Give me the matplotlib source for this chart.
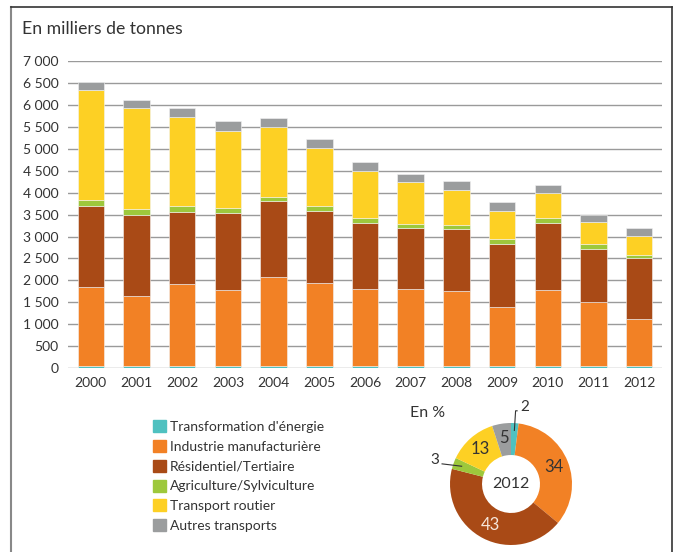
import numpy as np
import matplotlib.pyplot as plt
from matplotlib.lines import Line2D

plt.rcParams['font.family'] = ['Lato', 'DejaVu Sans']

# Data (milliers de tonnes)
years = ['2000', '2001', '2002', '2003', '2004', '2005', '2006',
         '2007', '2008', '2009', '2010', '2011', '2012']
transformation = [50, 50, 50, 50, 50, 50, 50, 50, 50, 50, 50, 50, 50]
industrie = [1790, 1600, 1860, 1730, 2025, 1890, 1760, 1760, 1700, 1350, 1730, 1450, 1080]
residentiel = [1860, 1850, 1650, 1750, 1725, 1650, 1500, 1390, 1430, 1420, 1530, 1225, 1375]
agriculture = [130, 130, 140, 130, 110, 110, 120, 90, 90, 115, 120, 95, 85]
transport = [2500, 2290, 2010, 1750, 1580, 1305, 1055, 950, 780, 655, 560, 500, 430]
autres = [190, 190, 210, 210, 210, 210, 215, 190, 215, 190, 190, 170, 165]

series = [transformation, industrie, residentiel, agriculture, transport, autres]
labels = ["Transformation d'énergie", "Industrie manufacturière",
          "Résidentiel/Tertiaire", "Agriculture/Sylviculture",
          "Transport routier", "Autres transports"]
colors = ['#4fc1c0', '#f28125', '#a94a16', '#9dc83c', '#fdd024', '#9b9d9e']

pie_pct = [2, 34, 43, 3, 13, 5]

yticks = np.arange(0, 7001, 500)
ytick_labels = ['{:,}'.format(v).replace(',', ' ') for v in yticks]

txt = '#333333'

fig = plt.figure(figsize=(6.75, 5.52), dpi=100)

# Bar chart
ax = fig.add_axes([68 / 675, 1 - 368.3 / 552, 594 / 675, 307.5 / 552])
x = np.arange(len(years))
bottom = np.zeros(len(years))
for vals, c in zip(series, colors):
    ax.bar(x, vals, width=0.58, bottom=bottom, color=c,
           edgecolor='#f4f4f4', linewidth=0.4, zorder=3)
    bottom += np.array(vals)

ax.set_xlim(-0.5, 12.5)
ax.set_ylim(0, 7000)
ax.set_yticks(yticks)
ax.set_yticklabels(ytick_labels, fontsize=10, color=txt)
ax.set_xticks(x)
ax.set_xticklabels(years, fontsize=10, color=txt)
ax.tick_params(length=0)
ax.tick_params(axis='y', pad=7)
ax.tick_params(axis='x', pad=6)
ax.grid(axis='y', color='#9a9a9a', linewidth=1.0, zorder=0)
for s in ax.spines.values():
    s.set_visible(False)

fig.text(22 / 675, 1 - 29 / 552, 'En milliers de tonnes', fontsize=12.7,
         color=txt, va='center', ha='left')

# Legend
handles = [plt.Rectangle((0, 0), 1, 1, color=c) for c in colors]
fig.legend(handles, labels, loc='upper left',
           bbox_to_anchor=(140 / 675, 1 - 408 / 552), frameon=False,
           fontsize=10, handlelength=0.95, handleheight=0.95,
           handletextpad=0.3, labelspacing=0.5, labelcolor=txt)

# Donut
R = 61
cx, cy = 511, 484
pax = fig.add_axes([(cx - R) / 675, 1 - (cy + R) / 552, 2 * R / 675, 2 * R / 552])
wedges, _ = pax.pie(pie_pct, colors=colors, startangle=90, counterclock=False,
                    radius=1, wedgeprops=dict(width=0.525, edgecolor='none'))
pax.set_xlim(-1, 1)
pax.set_ylim(-1, 1)
pax.set_aspect('auto')

for i, (w, p) in enumerate(zip(wedges, pie_pct)):
    ang = np.deg2rad((w.theta1 + w.theta2) / 2)
    if i == 0:
        x0, y0 = 0.88 * np.cos(ang), 0.88 * np.sin(ang)
        pax.plot([x0, x0 + 0.02, 0.1], [y0, 1.2, 1.2], color=txt, lw=0.8,
                 clip_on=False)
        pax.text(0.22, 1.27, str(p), fontsize=11, color=txt,
                 ha='center', va='center')
    elif i == 3:
        x0, y0 = 0.86 * np.cos(ang), 0.86 * np.sin(ang)
        pax.plot([x0, -1.13], [y0, 0.33], color=txt, lw=0.8, clip_on=False)
        pax.text(-1.25, 0.39, str(p), fontsize=11, color=txt,
                 ha='center', va='center')
    else:
        c = '#f6e6da' if i == 2 else txt
        pax.text(0.76 * np.cos(ang), 0.76 * np.sin(ang), str(p), fontsize=12,
                 color=c, ha='center', va='center')
pax.text(0, 0, '2012', fontsize=11.5, color=txt, ha='center', va='center')

fig.text(410 / 675, 1 - 413 / 552, 'En %', fontsize=11.5, color=txt,
         ha='left', va='center')

# Frame
fig.add_artist(Line2D([11 / 675, 11 / 675], [0, 1 - 7 / 552], color='#888888', lw=1.5))
fig.add_artist(Line2D([11 / 675, 672 / 675], [1 - 7 / 552, 1 - 7 / 552], color='#333333', lw=1.2))
fig.add_artist(Line2D([672 / 675, 672 / 675], [0, 1 - 7 / 552], color='#333333', lw=1.2))

fig.savefig('out.png', dpi=100)
